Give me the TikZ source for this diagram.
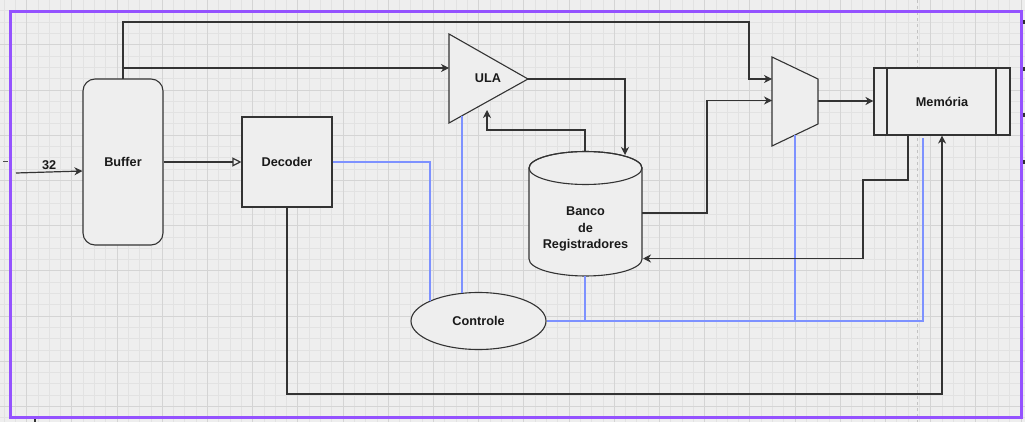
\documentclass[tikz,border=0pt]{standalone}
\usepackage{fontspec}
\setmainfont{Liberation Sans}
\usetikzlibrary{arrows.meta,shapes.geometric}
\definecolor{bgc}{RGB}{238,238,238}
\definecolor{gridminor}{RGB}{226,226,226}
\definecolor{gridmajor}{RGB}{212,212,212}
\definecolor{purp}{RGB}{148,82,255}
\definecolor{wire}{RGB}{51,51,51}
\definecolor{ctl}{RGB}{125,145,255}
\definecolor{pagebrk}{RGB}{195,195,195}
\tikzset{
  blk/.style={draw=wire, line width=1.1pt, fill=bgc, inner sep=0pt, font=\fontsize{12.7}{15}\selectfont\bfseries, text=black!90},
  lbl/.style={inner sep=0pt, font=\fontsize{12.7}{15}\selectfont\bfseries, text=black!90, align=center},
  conn/.style={draw=wire, line width=1.2pt, -{Stealth[length=8pt,width=8pt,inset=2.5pt]}},
  plain/.style={draw=wire, line width=1.2pt},
  ctlw/.style={draw=ctl, line width=1.1pt},
}
\begin{document}
\begin{tikzpicture}[x=1pt,y=-1pt]
\useasboundingbox (0,0) rectangle (1025,422);
\fill[bgc] (0,0) rectangle (1025,422);
% grid
\foreach \i in {-3,...,90} {
  \draw[gridminor, line width=0.6pt] ({26.5+11.3*\i},0) -- ({26.5+11.3*\i},422);
  \draw[gridminor, line width=0.6pt] (0,{-0.5+11.3*\i}) -- (1025,{-0.5+11.3*\i});
}
\foreach \i in {0,...,22} {
  \draw[gridmajor, line width=0.7pt] ({26.5+45.2*\i},0) -- ({26.5+45.2*\i},422);
  \draw[gridmajor, line width=0.7pt] (0,{-0.5+45.2*\i}) -- (1025,{-0.5+45.2*\i});
}
% page break line
\draw[pagebrk, dashed, line width=0.8pt] (917,0) -- (917,422);

% nodes
\node[blk, rounded corners=12pt, minimum width=80pt, minimum height=166pt] (buffer) at (123,162) {Buffer};
\node[blk, minimum width=90pt, minimum height=90pt] (decoder) at (287,162) {Decoder};
\node[blk, minimum width=136pt, minimum height=67pt] (mem) at (942,101.5) {Memória};
\draw[wire, line width=1.1pt] (887,68) -- (887,135) (996,68) -- (996,135);
\node[blk, ellipse, minimum width=135pt, minimum height=57pt] (ctrl) at (478.5,321) {Controle};

% ULA triangle
\coordinate (ulaTop) at (449,34);
\coordinate (ulaBot) at (449,123);
\coordinate (ulaOut) at (528,79);
\filldraw[fill=bgc, draw=wire, line width=1.1pt, line join=miter] (ulaTop) -- (ulaOut) -- (ulaBot) -- cycle;
\node[lbl] (ula) at (488,78) {ULA};

% MUX trapezoid
\coordinate (muxTL) at (772,57);
\coordinate (muxBL) at (772,146);
\coordinate (muxTR) at (818,79);
\coordinate (muxBR) at (818,124);
\filldraw[fill=bgc, draw=wire, line width=1.1pt] (muxTL) -- (muxTR) -- (muxBR) -- (muxBL) -- cycle;

% Banco cylinder
\filldraw[fill=bgc, draw=wire, line width=1.1pt] (529,168) -- (529,259) arc[start angle=180, end angle=0, x radius=56.5, y radius=17] -- (642,168) arc[start angle=0, end angle=-180, x radius=56.5, y radius=16.5] -- cycle;
\draw[wire, line width=1.1pt] (585.5,168) ellipse[x radius=56.5, y radius=16.5];
\node[lbl, font=\fontsize{12.7}{16.5}\selectfont\bfseries] (banco) at (585.5,229) {Banco\\de\\Registradores};

% connector coordinates
\coordinate (in) at (16,173);
\coordinate (bufTop) at (123,79);
\coordinate (bancoTop) at (585,151.5);
\coordinate (bancoBot) at (585,276);

% control lines
\draw[ctlw] (decoder.east) -- (430,162) -- (430,301.2);
\draw[ctlw] (462,116) -- (462,293.4);
\draw[ctlw] (ctrl.east) -- (923,321) -- (923,138);
\draw[ctlw] (bancoBot) -- (585,321);
\draw[ctlw] (795,135) -- (795,321);

% black connectors
\draw[conn] (in) -- (buffer.west |- 0,171) node[lbl, pos=0.5, above=2pt] (n32) {32};
\draw[draw=wire, line width=1.2pt, -{Triangle[open,length=9pt,width=9pt,fill=bgc]}] (buffer.east) -- (decoder.west);
\draw[conn] (bufTop) -- (123,22) -- (749,22) -- (749,79) -- (muxTL |- 0,79);
\draw[conn] (123,68) -- (ulaTop |- 0,68);
\draw[conn] (ulaOut) -- (625,79) -- (625,155);
\draw[conn] (bancoTop) -- (585,130) -- (487,130) -- (487,110);
\draw[conn] (642,213) -- (707,213) -- (707,100.5) -- (muxTL |- 0,100.5);
\draw[conn] (818,101) -- (mem.west |- 0,101);
\draw[conn] (908,135) -- (908,180) -- (863,180) -- (863,258.5) -- (643,258.5);
\draw[conn] (decoder.south) -- (287,394) -- (942,394) -- (mem.south -| 942,0);

% frame
\draw[purp, line width=3pt] (10,12) rectangle (1021,417);

% edge marks
\foreach \yy in {22,69,115,162} { \fill[black!80] (1022.5,\yy-2) rectangle (1025,\yy+2); }
\draw[black!70, line width=1pt] (3,162) -- (8,162);
\draw[black!80, line width=1.5pt] (35,419) -- (35,422);
\end{tikzpicture}
\end{document}
